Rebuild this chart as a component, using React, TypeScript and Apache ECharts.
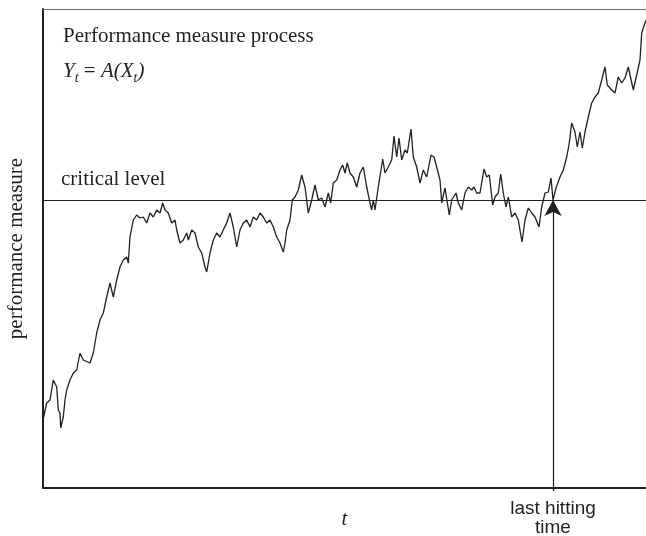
import React, { useEffect, useRef } from 'react';
import * as echarts from 'echarts';

// time (t) positions along the horizontal axis
const tValues = [
  0, 3.7, 7, 10.3, 13.7, 15.3, 17, 17.7, 20.3, 22,
  23.7, 27, 30.3, 33.7, 37, 40.3, 47, 50.3, 53.7, 57,
  60.3, 63.7, 67, 70.3, 73.7, 77, 80.3, 83.7, 85.3, 87,
  90.3, 93.7, 97, 100.3, 103.7, 107, 110.3, 113.7, 117, 119.7,
  122, 125.3, 128.7, 132, 133.7, 137, 140.3, 143.7, 145.3, 148.7,
  152, 155.3, 158.7, 162, 163.7, 167, 170.3, 173.7, 177, 180.3,
  183.7, 187, 190.3, 193.7, 197, 200.3, 203.7, 207, 210.3, 213.7,
  217, 220.3, 223.7, 227, 230.3, 233.7, 237, 240.3, 242, 243.7,
  247, 249.3, 252, 255.3, 258.7, 262, 265.3, 268.7, 272, 275.3,
  278.7, 282, 285.3, 287.7, 290.3, 293.7, 297, 299.7, 302, 304.3,
  307, 310.3, 313.7, 317, 320.3, 323.7, 327, 328.7, 330.3, 332,
  335.3, 339.7, 342, 345.3, 348.7, 351, 353.7, 356, 358.7, 362,
  364.3, 368, 370.3, 373.7, 377, 380.3, 383.7, 388, 391, 393.7,
  397, 398.7, 402, 406.3, 408.7, 413, 415.3, 418.7, 422, 425.3,
  428.7, 431, 433.7, 437, 441, 443.7, 446.3, 449.7, 452, 455.3,
  457.7, 460.3, 463, 465.3, 468.7, 472, 475.3, 479, 482, 485.3,
  488.7, 492, 496, 498.7, 502, 505.3, 508, 510, 513, 517,
  520.3, 523.7, 526.3, 528.7, 532, 534.3, 537, 539.3, 542, 545.3,
  548.7, 552, 555.3, 558.7, 562, 564.3, 568.7, 572, 575.3, 578.7,
  582, 585.3, 590.3, 593.7, 597, 598.7, 602, 603,
];

// performance measure Y_t = A(X_t)
const yValues = [
  68, 85, 88, 108, 101, 78, 75, 60, 71, 88,
  98, 108, 115, 118, 135, 128, 125, 135, 155, 168,
  175, 191, 205, 191, 208, 221, 228, 231, 225, 251,
  268, 273, 270, 271, 265, 275, 271, 278, 275, 285,
  278, 275, 265, 268, 258, 245, 248, 255, 248, 258,
  255, 241, 235, 221, 216, 235, 248, 255, 251, 258,
  265, 275, 261, 241, 258, 265, 268, 261, 271, 268,
  275, 271, 265, 268, 261, 251, 245, 236, 245, 258,
  268, 288, 291, 298, 313, 301, 275, 288, 303, 288,
  290, 281, 295, 285, 305, 308, 318, 323, 315, 325,
  315, 311, 301, 315, 321, 301, 285, 278, 288, 278,
  301, 329, 315, 321, 328, 352, 331, 350, 328, 338,
  335, 359, 331, 321, 305, 318, 311, 333, 331, 321,
  308, 285, 300, 273, 288, 295, 285, 278, 295, 301,
  298, 301, 295, 295, 319, 311, 313, 283, 291, 295,
  314, 295, 281, 291, 271, 275, 268, 246, 268, 280,
  275, 271, 261, 281, 295, 296, 310, 288, 300, 311,
  318, 331, 345, 365, 356, 341, 356, 340, 356, 371,
  385, 391, 395, 408, 421, 403, 398, 395, 411, 405,
  410, 421, 398, 413, 428, 455, 465, 468,
];

const criticalLevel = 288;
const lastHittingTime = 510;
const tMax = 603;
const yMax = 479;

export default function App() {
  const ref = useRef<HTMLDivElement>(null);

  useEffect(() => {
    const chart = echarts.init(ref.current!, null, { renderer: 'svg' });
    const ink = '#231f20';
    const serif = '"Liberation Serif", "Times New Roman", serif';
    const sans = '"Liberation Sans", Arial, sans-serif';

    chart.setOption({
      animation: false,
      grid: { left: 43, top: 9, right: 0, bottom: 48, containLabel: false, outerBoundsMode: 'none' },
      xAxis: [
        {
          type: 'value',
          min: 0,
          max: tMax,
          position: 'bottom',
          axisLine: { show: true, onZero: false, lineStyle: { color: ink, width: 2 } },
          axisTick: {
            show: true,
            customValues: [lastHittingTime],
            length: 3,
            lineStyle: { color: ink, width: 1.3 },
          },
          axisLabel: {
            show: true,
            customValues: [lastHittingTime],
            formatter: () => 'last hitting\ntime',
            fontFamily: sans,
            fontSize: 19,
            lineHeight: 19,
            color: ink,
            margin: 10,
          },
          splitLine: { show: false },
          name: 't',
          nameLocation: 'middle',
          nameGap: 19,
          nameMoveOverlap: false,
          nameTextStyle: { fontFamily: serif, fontStyle: 'italic', fontSize: 21, color: ink },
        },
        {
          type: 'value',
          min: 0,
          max: tMax,
          position: 'top',
          axisLine: { show: true, onZero: false, lineStyle: { color: '#6a6a6a', width: 1.2 } },
          axisTick: { show: false },
          axisLabel: { show: false },
          splitLine: { show: false },
        },
      ],
      yAxis: {
        type: 'value',
        min: 0,
        max: yMax,
        axisLine: { show: true, onZero: false, lineStyle: { color: ink, width: 2 } },
        axisTick: { show: false },
        axisLabel: { show: false },
        splitLine: { show: false },
        name: 'performance measure',
        nameLocation: 'middle',
        nameGap: 18,
        nameRotate: 90,
        nameMoveOverlap: false,
        nameTextStyle: { fontFamily: serif, fontSize: 21, color: ink },
      },
      series: [
        {
          type: 'line',
          xAxisIndex: 0,
          data: tValues.map((t, i) => [t, yValues[i]]),
          symbol: 'none',
          showSymbol: false,
          lineStyle: { color: ink, width: 1.3 },
          emphasis: { disabled: true },
          markLine: {
            silent: true,
            symbol: ['none', 'none'],
            label: { show: false },
            emphasis: { disabled: true },
            lineStyle: { color: ink, width: 1.2, type: 'solid' },
            data: [
              { yAxis: criticalLevel },
              [
                { coord: [lastHittingTime, 0], symbol: 'none' },
                { coord: [lastHittingTime, criticalLevel], symbol: 'arrow', symbolSize: [13, 16] },
              ],
            ],
          },
        },
      ],
      graphic: [
        {
          type: 'text',
          x: 63,
          y: 35,
          style: {
            text: 'Performance measure process',
            fontFamily: serif,
            fontSize: 21,
            fill: ink,
            verticalAlign: 'middle',
          },
        },
        {
          type: 'text',
          x: 63,
          y: 59,
          style: {
            text: '{i|Y}{s|t}{n| = }{i|A(X}{s|t}{i|)}',
            verticalAlign: 'top',
            fill: ink,
            rich: {
              i: { fontFamily: serif, fontStyle: 'italic', fontSize: 21, lineHeight: 21, verticalAlign: 'top', fill: ink },
              n: { fontFamily: serif, fontSize: 21, lineHeight: 21, verticalAlign: 'top', fill: ink },
              s: { fontFamily: serif, fontStyle: 'italic', fontSize: 14, lineHeight: 14, verticalAlign: 'top', padding: [11.5, 0, 0, 0], fill: ink },
            },
          },
        },
        {
          type: 'text',
          x: 61,
          y: 178,
          style: {
            text: 'critical level',
            fontFamily: serif,
            fontSize: 21,
            fill: ink,
            verticalAlign: 'middle',
          },
        },
      ],
    });

    return () => chart.dispose();
  }, []);

  return <div ref={ref} style={{ position: 'fixed', left: 0, top: 0, width: 646, height: 536 }} />;
}
